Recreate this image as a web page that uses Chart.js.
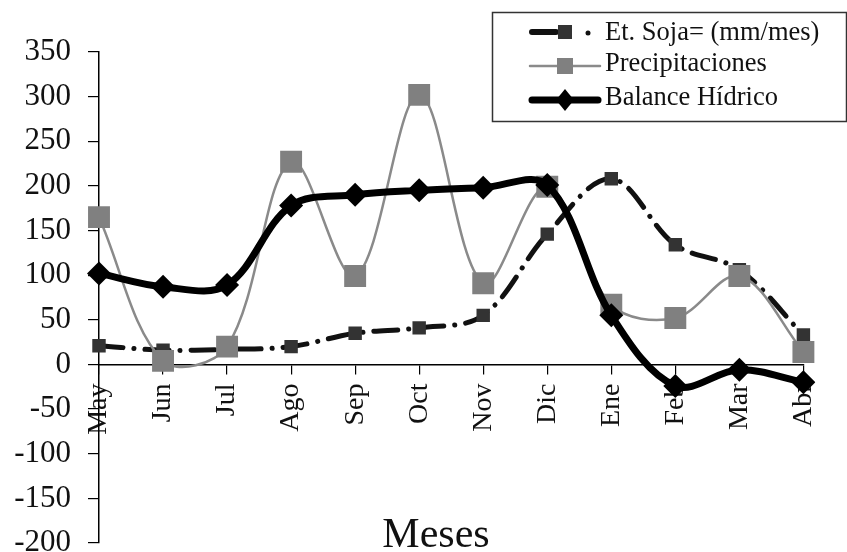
<!DOCTYPE html>
<html>
<head>
<meta charset="utf-8">
<script src="https://cdn.jsdelivr.net/npm/chart.js@4.4.0/dist/chart.umd.min.js"></script>
<style>
  body { margin: 0; background: #fff; }
  #wrap { width: 847px; height: 552px; }
</style>
</head>
<body>
<div id="wrap"><canvas id="balance-chart" width="847" height="552"></canvas></div>
<script>
const months = ['May', 'Jun', 'Jul', 'Ago', 'Sep', 'Oct', 'Nov', 'Dic', 'Ene', 'Feb', 'Mar', 'Abr'];
const etSoja = [21, 16, 17, 20, 35, 41, 55, 146, 208, 134, 106, 33];
const precipitaciones = [165, 4, 20, 227, 99, 302, 91, 199, 67, 52, 99, 14];
const balanceHidrico = [102, 87, 89, 178, 190, 195, 198, 201, 55, -24, -6, -20];
const yTicks = { min: -200, max: 350, step: 50 };
const seriesNames = ['Et. Soja= (mm/mes)', 'Precipitaciones', 'Balance Hídrico'];
const axisTitle = 'Meses';

const serif = '"Liberation Serif", "Times New Roman", serif';

// the tick labels reserve room below -200; let the plot run to the bottom edge like the original
const plotBottomPlugin = {
  id: 'plotBottom',
  afterLayout(chart) {
    const y = chart.scales.y;
    y.bottom = 543;
    y.height = y.bottom - y.top;
    y.configure();
    chart.chartArea.bottom = 543;
    chart.chartArea.height = 543 - chart.chartArea.top;
  }
};

// legend box + x axis title, drawn by hand
const extrasPlugin = {
  id: 'extras',
  afterDraw(chart) {
    const ctx = chart.ctx;
    ctx.save();

    ctx.strokeStyle = '#333';
    ctx.lineWidth = 1.5;
    ctx.strokeRect(492.5, 12.5, 354, 109);

    ctx.lineCap = 'round';
    // Et. Soja sample
    ctx.strokeStyle = '#111';
    ctx.lineWidth = 6;
    ctx.beginPath(); ctx.moveTo(532, 32); ctx.lineTo(556, 32); ctx.stroke();
    ctx.fillStyle = '#333';
    ctx.fillRect(558, 25, 14, 14);
    ctx.fillStyle = '#111';
    ctx.beginPath(); ctx.arc(588, 33, 2.5, 0, Math.PI * 2); ctx.fill();

    // Precipitaciones sample
    ctx.strokeStyle = '#8a8a8a';
    ctx.lineWidth = 2.5;
    ctx.beginPath(); ctx.moveTo(530, 66); ctx.lineTo(600, 66); ctx.stroke();
    ctx.fillStyle = '#808080';
    ctx.fillRect(557, 58, 16, 16);

    // Balance sample
    ctx.strokeStyle = '#000';
    ctx.lineWidth = 7;
    ctx.beginPath(); ctx.moveTo(532, 100); ctx.lineTo(598, 100); ctx.stroke();
    ctx.fillStyle = '#000';
    ctx.beginPath();
    ctx.moveTo(565, 89); ctx.lineTo(574, 100); ctx.lineTo(565, 111); ctx.lineTo(556, 100);
    ctx.closePath(); ctx.fill();

    ctx.fillStyle = '#111';
    ctx.font = '26.5px ' + serif;
    ctx.textBaseline = 'middle';
    ctx.textAlign = 'left';
    ctx.fillText(seriesNames[0], 605, 33);
    ctx.fillText(seriesNames[1], 605, 64);
    ctx.fillText(seriesNames[2], 605, 98);

    ctx.font = '42px ' + serif;
    ctx.textAlign = 'center';
    ctx.textBaseline = 'alphabetic';
    ctx.fillText(axisTitle, 436, 547);
    ctx.restore();
  }
};

new Chart(document.getElementById('balance-chart'), {
  type: 'line',
  data: {
    labels: months,
    datasets: [
      {
        label: seriesNames[0],
        data: etSoja,
        order: 3,
        borderColor: '#111',
        borderWidth: 5,
        borderDash: [24, 11, 0.1, 11],
        borderCapStyle: 'round',
        tension: 0.35,
        pointStyle: 'rect',
        pointRadius: 9.5,
        pointBackgroundColor: '#333',
        pointBorderWidth: 0,
      },
      {
        label: seriesNames[1],
        data: precipitaciones,
        order: 2,
        borderColor: '#8a8a8a',
        borderWidth: 2.5,
        tension: 0.35,
        pointStyle: 'rect',
        pointRadius: 15.5,
        pointBackgroundColor: '#808080',
        pointBorderWidth: 0,
      },
      {
        label: seriesNames[2],
        data: balanceHidrico,
        order: 1,
        borderColor: '#000',
        borderWidth: 7,
        tension: 0.35,
        pointStyle: 'rectRot',
        pointRadius: 12,
        pointBackgroundColor: '#000',
        pointBorderWidth: 0,
      },
    ],
  },
  options: {
    responsive: false,
    animation: false,
    devicePixelRatio: 1,
    layout: { padding: { left: 0, right: 36, top: 52, bottom: 9 } },
    plugins: {
      legend: { display: false },
      tooltip: { enabled: false },
    },
    scales: {
      x: {
        type: 'category',
        position: { y: 0 },
        offset: false,
        afterFit: (scale) => { scale.height = 0; },
        grid: { drawOnChartArea: false, tickLength: 9, color: '#000', lineWidth: 1.2 },
        border: { color: '#000', width: 1.5 },
        ticks: {
          autoSkip: false,
          minRotation: 90,
          maxRotation: 90,
          padding: 10,
          color: '#111',
          font: { family: serif, size: 28 },
        },
      },
      y: {
        min: yTicks.min,
        max: yTicks.max,
        afterFit: (scale) => { scale.width = 99; },
        grid: { drawOnChartArea: false, tickLength: 11, color: '#000', lineWidth: 1.2 },
        border: { color: '#000', width: 1.5 },
        ticks: {
          stepSize: yTicks.step,
          padding: 17,
          color: '#111',
          font: { family: serif, size: 31 },
        },
      },
    },
  },
  plugins: [plotBottomPlugin, extrasPlugin],
});
</script>
</body>
</html>
